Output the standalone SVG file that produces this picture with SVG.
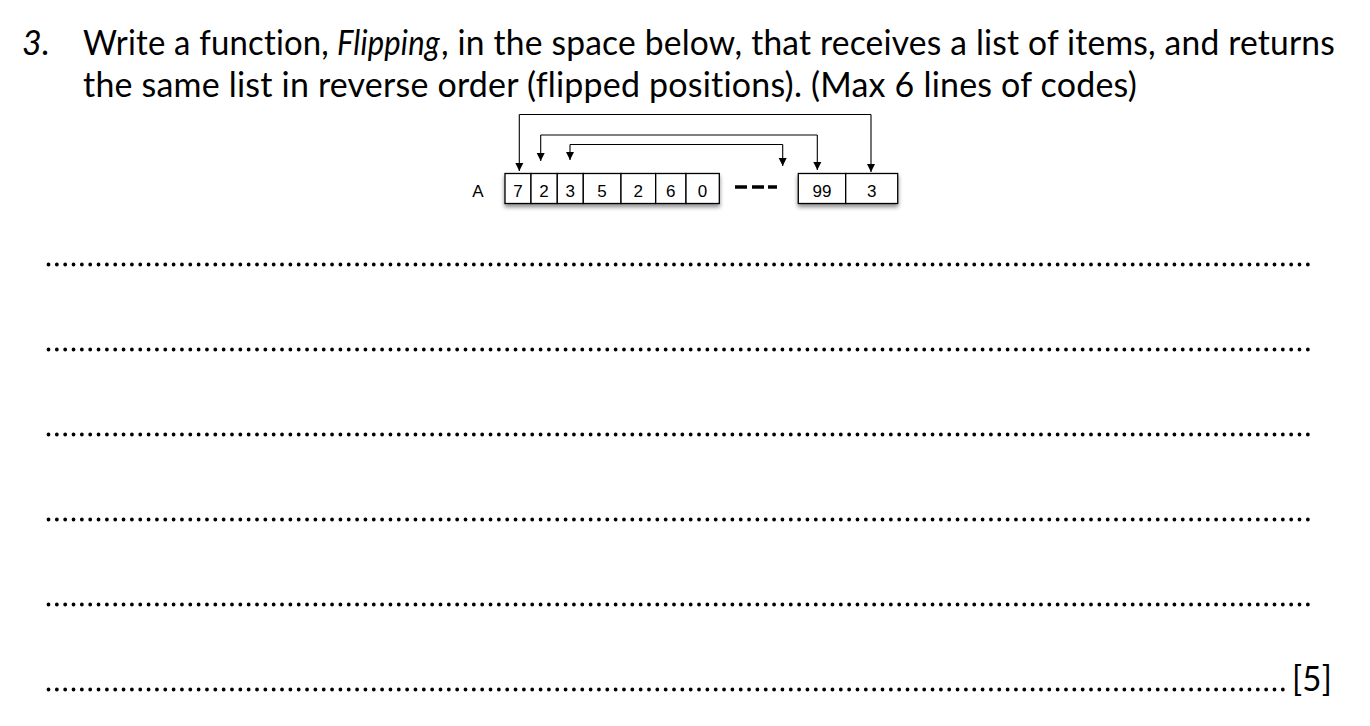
<svg xmlns="http://www.w3.org/2000/svg" width="1370" height="726" viewBox="0 0 1370 726">
<style>
.q{font-family:Lato,"Open Sans","Liberation Sans",sans-serif;font-size:34px;fill:#000;letter-spacing:0.2px;font-variant-ligatures:none;font-feature-settings:"liga" 0,"dlig" 0,"clig" 0}
.d{fill:none;stroke:#000;stroke-width:3.8;stroke-linecap:round;stroke-dasharray:0.01 8.33}
.cell{fill:#fff;stroke:#000;stroke-width:1.3}
.n{font-family:"Liberation Sans",Arial,sans-serif;font-size:17px;fill:#000;text-anchor:middle}
.c{fill:none;stroke:#000;stroke-width:1.1}
</style>
<defs>
<marker id="ah" viewBox="0 0 10 10" refX="10" refY="5" markerWidth="8" markerHeight="11" markerUnits="userSpaceOnUse" orient="auto">
<path d="M0,0 L10,5 L0,10 z" fill="#000"/>
</marker>
<filter id="sh" x="-20%" y="-20%" width="140%" height="160%">
<feDropShadow dx="0" dy="3" stdDeviation="2" flood-color="#000" flood-opacity="0.45"/>
</filter>
</defs>
<rect width="1370" height="726" fill="#fff"/>
<g id="question">
<text class="q" x="22" y="55" font-style="italic">3.</text>
<text class="q" x="83" y="55" textLength="246" lengthAdjust="spacingAndGlyphs">Write a function,</text>
<text class="q" x="337" y="55" textLength="103" lengthAdjust="spacingAndGlyphs" font-style="italic">Flipping</text>
<text class="q" x="441" y="55" textLength="894" lengthAdjust="spacingAndGlyphs">, in the space below, that receives a list of items, and returns</text>
<text class="q" x="83" y="97" textLength="1054" lengthAdjust="spacingAndGlyphs">the same list in reverse order (flipped positions). (Max 6 lines of codes)</text>
</g>
<g id="array">
<text class="n" x="478" y="197">A</text>
<g filter="url(#sh)">
<rect class="cell" x="505" y="173.5" width="26" height="30"/>
<rect class="cell" x="531" y="173.5" width="26.3" height="30"/>
<rect class="cell" x="557.3" y="173.5" width="26" height="30"/>
<rect class="cell" x="583.3" y="173.5" width="37.7" height="30"/>
<rect class="cell" x="621" y="173.5" width="34.7" height="30"/>
<rect class="cell" x="655.7" y="173.5" width="30.3" height="30"/>
<rect class="cell" x="686" y="173.5" width="33.3" height="30"/>
<rect class="cell" x="798.3" y="173.5" width="47.4" height="30"/>
<rect class="cell" x="845.7" y="173.5" width="52" height="30"/>
</g>
<text class="n" x="518" y="197">7</text>
<text class="n" x="544" y="197">2</text>
<text class="n" x="570.3" y="197">3</text>
<text class="n" x="602" y="197">5</text>
<text class="n" x="638.3" y="197">2</text>
<text class="n" x="670.8" y="197">6</text>
<text class="n" x="702.6" y="197">0</text>
<text class="n" x="822" y="197">99</text>
<text class="n" x="871.7" y="197">3</text>
<g stroke="#000" stroke-width="3.5">
<line x1="735" y1="187" x2="747" y2="187"/>
<line x1="752" y1="187" x2="764" y2="187"/>
<line x1="768" y1="187" x2="777" y2="187"/>
</g>
</g>
<g id="connectors">
<path class="c" d="M519.3,114.5 L871,114.5" />
<path class="c" d="M519.3,114.5 L519.3,171" marker-end="url(#ah)"/>
<path class="c" d="M871,114.5 L871,172" marker-end="url(#ah)"/>
<path class="c" d="M540.7,135 L817.3,135"/>
<path class="c" d="M540.7,135 L540.7,161" marker-end="url(#ah)"/>
<path class="c" d="M817.3,135 L817.3,170" marker-end="url(#ah)"/>
<path class="c" d="M570,144.5 L782.7,144.5"/>
<path class="c" d="M570,144.5 L570,160" marker-end="url(#ah)"/>
<path class="c" d="M782.7,144.5 L782.7,166" marker-end="url(#ah)"/>
</g>
<g id="answer-lines">
<line class="d" x1="48.5" y1="264.5" x2="1316" y2="264.5"/>
<line class="d" x1="48.5" y1="349.5" x2="1316" y2="349.5"/>
<line class="d" x1="48.5" y1="434.5" x2="1316" y2="434.5"/>
<line class="d" x1="48.5" y1="519.5" x2="1316" y2="519.5"/>
<line class="d" x1="48.5" y1="604.5" x2="1316" y2="604.5"/>
<line class="d" x1="48.5" y1="689.5" x2="1290" y2="689.5"/>
<text class="q" x="1292" y="691" textLength="40" lengthAdjust="spacingAndGlyphs">[5]</text>
</g>
</svg>
